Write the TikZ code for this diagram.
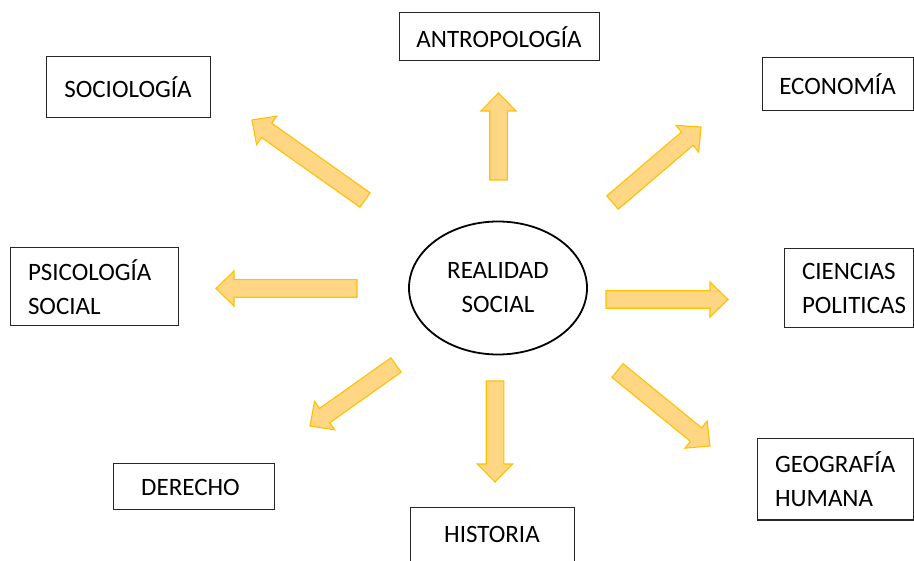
\documentclass[tikz,border=0pt]{standalone}
\usepackage{fontspec}
\setmainfont{Carlito}
\usetikzlibrary{calc,shapes.geometric}
\definecolor{arrfill}{RGB}{255,214,132}
\definecolor{arredge}{RGB}{255,192,0}
\newcommand\blockarr[2]{%
  \coordinate (#1-h) at ($(#2)!18pt!(#1)$);
  \filldraw[arrowst] ($(#1)!8.8pt!90:(#2)$) -- ($(#1-h)!8.8pt!90:(#2)$) -- ($(#1-h)!17.5pt!90:(#2)$) -- (#2)
    -- ($(#1-h)!17.5pt!-90:(#2)$) -- ($(#1-h)!8.8pt!-90:(#2)$) -- ($(#1)!8.8pt!-90:(#2)$) -- cycle;}
\tikzset{
  arrowst/.style={fill=arrfill, draw=arredge, line width=1.1pt, line join=miter},
  boxst/.style={draw=black!85, line width=1pt, rectangle, inner sep=0pt, align=center,
    font=\fontsize{25}{34}\selectfont},
  leftbox/.style={boxst, align=left, inner xsep=18pt},
}
\begin{document}
\begin{tikzpicture}[x=1pt,y=-1pt]
\useasboundingbox (0,0) rectangle (914,561);
\clip (0,0) rectangle (914,561);
\fill[white] (0,0) rectangle (914,561);
% centre
\node (centre) [ellipse, draw=black, line width=1.8pt, minimum width=178pt, minimum height=133pt,
  inner sep=0pt, align=center, font=\fontsize{25}{34}\selectfont] at (498,288) {REALIDAD\\SOCIAL};
% boxes
\node (antro) [boxst, minimum width=200pt, minimum height=48pt] at (499,37) {ANTROPOLOGÍA};
\node (socio) [boxst, minimum width=164pt, minimum height=61pt] at (128,87.5) {SOCIOLOGÍA};
\node (econ) [boxst, minimum width=151pt, minimum height=53pt] at (837.5,84.5) {ECONOMÍA};
\node (psico) [leftbox, text width=132pt, minimum height=78pt] at (94,287) {PSICOLOGÍA\\SOCIAL};
\node (cien) [leftbox, text width=93pt, minimum height=79pt] at (848.5,288.5) {CIENCIAS\\POLITICAS};
\node (dere) [boxst, minimum width=161pt, minimum height=46pt, text width=155pt, inner xsep=3pt] at (193.5,487) {\hspace*{-6pt}DERECHO};
\node (geo) [leftbox, text width=120pt, minimum height=81pt] at (835,479.5) {GEOGRAFÍA\\HUMANA};
\node (hist) [boxst, anchor=north, minimum width=164pt, text height=35pt, text depth=50pt] at (492,507) {HISTORIA};
% arrows
\coordinate (nT) at (498.5,180); \coordinate (nH) at (498.5,93);
\coordinate (sT) at (495,381);   \coordinate (sH) at (495,482);
\coordinate (wT) at (357,288.5); \coordinate (wH) at (216,288.5);
\coordinate (eT) at (606,299.5); \coordinate (eH) at (728,299.5);
\coordinate (nwT) at (365,200);  \coordinate (nwH) at (252,120);
\coordinate (neT) at (612.5,202.5); \coordinate (neH) at (701,127);
\coordinate (swT) at (396,365);  \coordinate (swH) at (310,426);
\coordinate (seT) at (617.5,370.5); \coordinate (seH) at (710,446);
\blockarr{nT}{nH}
\blockarr{sT}{sH}
\blockarr{wT}{wH}
\blockarr{eT}{eH}
\blockarr{nwT}{nwH}
\blockarr{neT}{neH}
\blockarr{swT}{swH}
\blockarr{seT}{seH}
\end{tikzpicture}
\end{document}
